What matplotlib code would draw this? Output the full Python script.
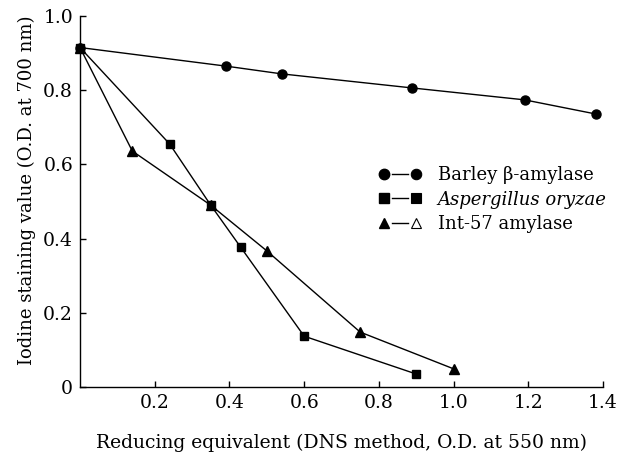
import matplotlib
matplotlib.use("Agg")
import matplotlib.pyplot as plt
from matplotlib.lines import Line2D
from matplotlib.legend_handler import HandlerTuple
from matplotlib.ticker import FuncFormatter

plt.rcParams['font.family'] = ['DejaVu Serif']

barley_x = [0.0, 0.39, 0.54, 0.89, 1.19, 1.38]
barley_y = [0.915, 0.865, 0.844, 0.806, 0.774, 0.736]

asp_x = [0.0, 0.24, 0.35, 0.43, 0.60, 0.90]
asp_y = [0.915, 0.655, 0.49, 0.377, 0.137, 0.035]

int_x = [0.0, 0.14, 0.35, 0.50, 0.75, 1.00]
int_y = [0.915, 0.636, 0.49, 0.367, 0.148, 0.049]

x_ticks = [0.2, 0.4, 0.6, 0.8, 1.0, 1.2, 1.4]
y_ticks = [0, 0.2, 0.4, 0.6, 0.8, 1.0]

labels = ["Barley β-amylase", "Aspergillus oryzae", "Int-57 amylase"]

fig = plt.figure(figsize=(6.27, 4.63), dpi=100)
ax = fig.add_axes([80/627, 1-387/463, 523/627, 371/463])

ax.plot(int_x, int_y, color='black', lw=1.0, marker='^', ms=6.5, clip_on=False, zorder=3)
ax.plot(asp_x, asp_y, color='black', lw=1.0, marker='s', ms=6, clip_on=False, zorder=3)
ax.plot(barley_x, barley_y, color='black', lw=1.0, marker='o', ms=6.5, clip_on=False, zorder=4)

ax.set_xlim(0, 1.4)
ax.set_ylim(0, 1.0)
ax.set_xticks(x_ticks)
ax.set_yticks(y_ticks)
ax.xaxis.set_major_formatter(FuncFormatter(lambda v, p: f"{v:.1f}"))
ax.yaxis.set_major_formatter(FuncFormatter(lambda v, p: "0" if abs(v) < 1e-9 else f"{v:.1f}"))
ax.tick_params(direction='in', length=4, width=1, labelsize=13.5, pad=5)
for s in ['top', 'right']:
    ax.spines[s].set_visible(False)
for s in ['left', 'bottom']:
    ax.spines[s].set_linewidth(1.0)

ax.set_xlabel("Reducing equivalent (DNS method, O.D. at 550 nm)", fontsize=13.5)
ax.set_ylabel("Iodine staining value (O.D. at 700 nm)", fontsize=13)
ax.xaxis.set_label_coords(0.5, -0.125)
ax.yaxis.set_label_coords(-0.085, 0.53)

def trio(m, fill2=True):
    a = Line2D([], [], color='black', marker=m, ms=7.5, ls='none')
    b = Line2D([], [], color='black', lw=1.0)
    c = Line2D([], [], color='black', marker=m, ms=7.5, ls='none',
               markerfacecolor='black' if fill2 else 'white', markeredgewidth=0.8)
    return (a, b, c)

handles = [trio('o'), trio('s'), trio('^', False)]
leg = ax.legend(handles, labels, handler_map={tuple: HandlerTuple(ndivide=None, pad=0.0)},
                loc='upper left', bbox_to_anchor=(0.565, 0.595), frameon=False,
                fontsize=13, handlelength=2.7, handletextpad=0.75, labelspacing=0.35,
                borderpad=0, borderaxespad=0)
leg.get_texts()[1].set_style('italic')

fig.savefig("out.png", dpi=100)
